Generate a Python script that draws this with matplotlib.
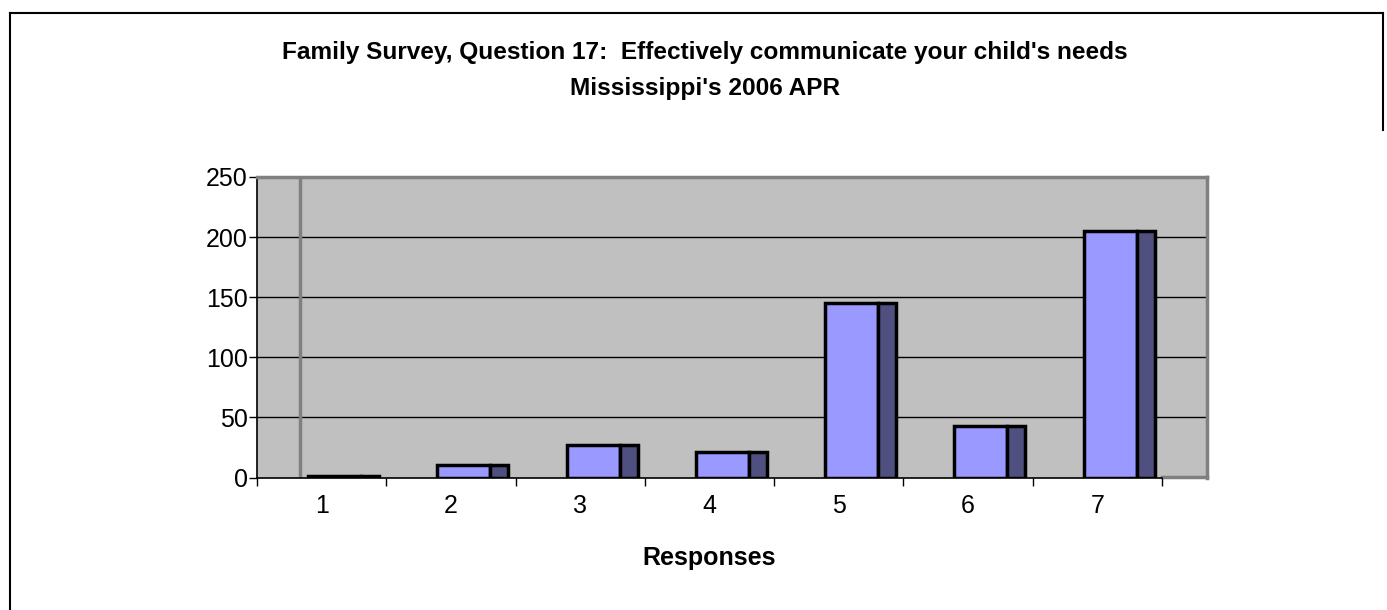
import matplotlib
matplotlib.use("Agg")
import matplotlib.pyplot as plt
from matplotlib.patches import Rectangle
from matplotlib.lines import Line2D

categories = ["1", "2", "3", "4", "5", "6", "7"]
values = [1, 10, 27, 21, 145, 43, 205]
y_ticks = [0, 50, 100, 150, 200, 250]
title_lines = ["Family Survey, Question 17:  Effectively communicate your child's needs",
               "Mississippi's 2006 APR"]
x_label = "Responses"

plt.rcParams['font.family'] = ['Liberation Sans', 'DejaVu Sans']

W, H = 1387, 610
fig = plt.figure(figsize=(W / 100, H / 100), dpi=100)
fig.patch.set_facecolor("white")

# figure frame lines
fig.add_artist(Line2D([10 / W, 10 / W], [0, 1 - 13 / H], color="black", lw=1.5, transform=fig.transFigure))
fig.add_artist(Line2D([10 / W, 1383 / W], [1 - 13 / H, 1 - 13 / H], color="black", lw=1.5, transform=fig.transFigure))
fig.add_artist(Line2D([1383 / W, 1383 / W], [1 - 13 / H, 1 - 130 / H], color="black", lw=1.5, transform=fig.transFigure))

left, right, top, bottom = 257, 1207, 177, 477.5
ax = fig.add_axes([left / W, 1 - bottom / H, (right - left) / W, (bottom - top) / H])
n = len(categories)
cat_px = (1162 - 257) / n
depth = 45 / cat_px
ax.set_xlim(0.5, n + 0.5 + depth)
ax.set_ylim(0, 250)
ax.set_facecolor("#C0C0C0")

for s in ["top", "right"]:
    ax.spines[s].set_color("#808080")
    ax.spines[s].set_linewidth(2.5)
ax.spines["left"].set_color("black")
ax.spines["left"].set_linewidth(1.2)
ax.spines["bottom"].set_color("black")
ax.spines["bottom"].set_linewidth(1.2)
ax.spines["bottom"].set_bounds(0.5, n + 0.5)

# gridlines
for t in y_ticks[1:-1]:
    ax.axhline(t, color="black", lw=1.0, zorder=1)
# back wall corner line
ax.axvline(0.5 + 43 / cat_px, color="#808080", lw=2.5, zorder=1)
# floor edge beyond axis
ax.plot([n + 0.5, n + 0.5 + depth], [0.6, 0.6], color="#808080", lw=2.5, zorder=1, clip_on=False)

front_l = 51 / cat_px - 0.5
front_r = 104 / cat_px - 0.5
side_r = 122 / cat_px - 0.5
for i, v in enumerate(values, start=1):
    ax.add_patch(Rectangle((i + front_l, 0), front_r - front_l, v, facecolor="#9999FF",
                           edgecolor="black", lw=2.5, zorder=3))
    ax.add_patch(Rectangle((i + front_r, 0), side_r - front_r, v, facecolor="#4F4F80",
                           edgecolor="black", lw=2.5, zorder=3))

ax.set_yticks(y_ticks)
ax.set_yticklabels([str(t) for t in y_ticks], fontsize=18)
ax.tick_params(axis="y", direction="out", length=6, width=1, pad=0.5)
ax.set_xticks([i + 0.5 for i in range(0, n + 1)])
ax.set_xticklabels([])
ax.tick_params(axis="x", direction="out", length=6, width=1)
for i, c in enumerate(categories, start=1):
    ax.text(i, -24, c, ha="center", va="center", fontsize=18)
ax.text((0.5 + n + 0.5) / 2, -67, x_label, ha="center", va="center", fontsize=18, fontweight="bold")

fig.text(705 / W, 1 - 52 / H, title_lines[0], ha="center", va="center", fontsize=17.6, fontweight="bold")
fig.text(705 / W, 1 - 88 / H, title_lines[1], ha="center", va="center", fontsize=17.6, fontweight="bold")

fig.savefig("out.png", dpi=100)
